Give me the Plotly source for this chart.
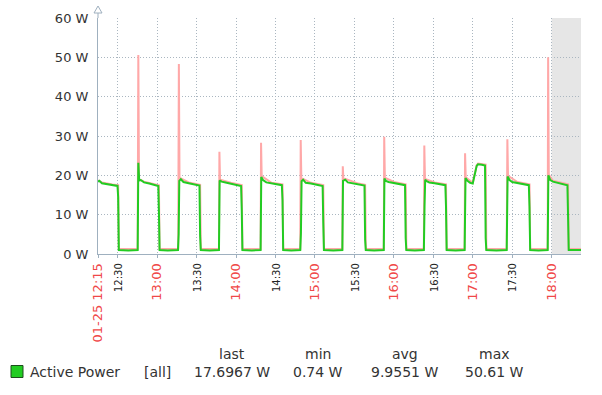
import plotly.graph_objects as go

DATE = "2024-01-25"

# avg (green) breakpoints
AVG_T = [
    "12:15:00", "12:16:00", "12:18:00", "12:22:00", "12:26:00", "12:29:50", "12:30:20", "12:30:50", "12:38:00", "12:45:10",
    "12:45:40", "12:46:20", "12:47:30", "12:50:00", "12:54:00", "12:58:00", "13:00:50", "13:01:20", "13:01:50", "13:08:00", "13:15:50",
    "13:16:20", "13:16:50", "13:18:00", "13:20:00", "13:24:00", "13:28:00", "13:32:10", "13:32:40", "13:33:10", "13:40:00", "13:47:00",
    "13:47:30", "13:49:00", "13:52:00", "13:56:00", "14:00:00", "14:03:50", "14:04:20", "14:04:50", "14:12:00", "14:18:40",
    "14:19:10", "14:20:30", "14:23:00", "14:27:00", "14:31:00", "14:34:50", "14:35:20", "14:35:50", "14:42:00", "14:48:50",
    "14:49:20", "14:49:50", "14:51:00", "14:53:00", "14:57:00", "15:01:00", "15:05:50", "15:06:20", "15:06:50", "15:14:00", "15:20:50",
    "15:21:20", "15:23:00", "15:25:00", "15:29:00", "15:33:00", "15:37:40", "15:38:10", "15:38:40", "15:45:00", "15:52:20",
    "15:52:50", "15:54:00", "15:56:00", "16:00:00", "16:04:00", "16:08:30", "16:09:00", "16:09:30", "16:16:00", "16:22:50",
    "16:23:20", "16:23:50", "16:25:00", "16:27:00", "16:31:00", "16:35:00", "16:39:10", "16:39:40", "16:40:10", "16:47:00", "16:53:50",
    "16:54:30", "16:56:00", "16:58:00", "17:00:00", "17:03:00", "17:04:00", "17:07:00", "17:09:20", "17:09:50", "17:10:20", "17:18:00", "17:25:50",
    "17:26:30", "17:28:00", "17:30:00", "17:34:00", "17:38:00", "17:42:40", "17:43:10", "17:43:40", "17:50:00", "17:57:00",
    "17:57:30", "17:59:00", "18:01:00", "18:05:00", "18:09:00", "18:12:00", "18:12:30", "18:13:00", "18:22:20",
]
AVG_W = [
    18.4, 18.6, 18.0, 17.7, 17.5, 17.3, 14.5, 1.0, 0.9, 1.0,
    23.2, 18.7, 18.8, 18.2, 17.9, 17.5, 17.3, 10.8, 1.0, 0.9, 1.0,
    5.0, 18.6, 19.0, 18.3, 18.0, 17.7, 17.4, 4.6, 1.0, 0.9, 1.0,
    18.7, 18.4, 18.2, 17.9, 17.5, 17.3, 11.2, 1.0, 0.9, 1.0,
    19.6, 18.8, 18.2, 17.9, 17.7, 17.5, 13.7, 1.0, 0.9, 1.0,
    5.3, 18.5, 18.9, 18.1, 17.9, 17.6, 17.3, 7.9, 1.0, 0.9, 1.0,
    18.6, 18.9, 18.2, 18.0, 17.7, 17.4, 3.6, 1.0, 0.9, 1.0,
    19.2, 18.6, 18.3, 18.1, 17.8, 17.5, 4.0, 1.0, 0.9, 1.0,
    12.0, 18.9, 18.5, 18.2, 18.0, 17.8, 17.5, 12.0, 1.0, 0.9, 1.0,
    19.3, 18.6, 18.1, 17.9, 22.4, 22.8, 22.7, 22.5, 4.0, 1.0, 0.9, 1.0,
    19.7, 18.8, 18.3, 18.1, 17.8, 17.5, 12.0, 1.0, 0.9, 1.0,
    20.0, 18.8, 18.4, 18.0, 17.7, 17.5, 9.5, 1.0, 1.0,
]

# max (pink) breakpoints
MAX_T = [
    "12:15:00", "12:18:00", "12:26:00", "12:30:20", "12:30:50", "12:45:10",
    "12:45:40", "12:46:10", "12:50:00", "12:58:00", "13:01:20", "13:01:50", "13:16:00",
    "13:16:30", "13:17:00", "13:18:00", "13:24:00", "13:32:40", "13:33:10", "13:47:00",
    "13:47:20", "13:47:50", "13:56:00", "14:04:20", "14:04:50", "14:18:40",
    "14:19:00", "14:19:30", "14:27:00", "14:35:20", "14:35:50", "14:48:50",
    "14:49:10", "14:49:40", "14:51:00", "14:57:00", "15:06:20", "15:06:50", "15:20:50",
    "15:21:10", "15:21:40", "15:23:00", "15:33:00", "15:38:10", "15:38:40", "15:52:20",
    "15:52:40", "15:53:10", "16:00:00", "16:09:00", "16:09:30", "16:22:50",
    "16:23:10", "16:23:40", "16:31:00", "16:39:40", "16:40:10", "16:53:50",
    "16:54:10", "16:54:40", "17:00:00", "17:03:00", "17:04:00", "17:09:50", "17:10:20", "17:25:50",
    "17:26:20", "17:26:50", "17:34:00", "17:43:10", "17:43:40", "17:57:00",
    "17:57:20", "17:57:50", "18:01:00", "18:12:30", "18:13:00", "18:22:20",
]
MAX_W = [
    18.7, 18.2, 17.7, 17.5, 1.3, 1.3,
    50.61, 19.0, 18.4, 17.7, 17.5, 1.3, 1.3,
    48.3, 19.0, 19.2, 18.2, 17.6, 1.3, 1.3,
    26.0, 18.9, 18.1, 17.5, 1.3, 1.3,
    28.3, 19.8, 18.1, 17.7, 1.3, 1.3,
    29.0, 18.7, 19.1, 18.1, 17.5, 1.3, 1.3,
    22.3, 18.8, 19.1, 17.9, 17.6, 1.3, 1.3,
    29.8, 19.4, 18.3, 17.7, 1.3, 1.3,
    27.6, 19.1, 18.2, 17.7, 1.3, 1.3,
    25.6, 19.5, 18.1, 22.6, 23.0, 22.7, 1.3, 1.3,
    29.2, 19.9, 18.3, 17.7, 1.3, 1.3,
    50.0, 20.2, 18.6, 17.7, 1.3, 1.3,
]

Y_TICKS = [0, 10, 20, 30, 40, 50, 60]
Y_UNIT = "W"
MAJOR_TICKS = ["12:15:00", "13:00:00", "14:00:00", "15:00:00", "16:00:00", "17:00:00", "18:00:00"]
MAJOR_LABELS = ["01-25 12:15", "13:00", "14:00", "15:00", "16:00", "17:00", "18:00"]
MINOR_TICKS = ["12:30:00", "13:30:00", "14:30:00", "15:30:00", "16:30:00", "17:30:00"]
MINOR_LABELS = ["12:30", "13:30", "14:30", "15:30", "16:30", "17:30"]
X_START = "12:15:00"
X_END = "18:22:20"
WORK_END = "18:00:00"

SERIES_NAME = "Active Power"
SERIES_SCOPE = "[all]"
STAT_NAMES = ["last", "min", "avg", "max"]
STAT_VALUES = ["17.6967 W", "0.74 W", "9.9551 W", "50.61 W"]

# ---- styling ----
W, H = 602, 395
L, R, T, B = 98, 21, 18, 141
PW, PH = W - L - R, H - T - B
FONT = "DejaVu Sans"
GREEN = "#22cc22"
PINK = "#ffa8a8"
GRID = "#aab6c0"
AXIS = "#9fb0bf"
RED = "#f04848"
TXT = "#333333"


def ts(t):
    return f"{DATE} {t}"


def px(x):
    return (x - L) / PW


def py(y):
    return (H - B - y) / PH


ticks = sorted(
    [(t, f'<span style="font-size:13px;color:{RED}">{lab}</span>') for t, lab in zip(MAJOR_TICKS, MAJOR_LABELS)]
    + [(t, f'<span style="font-size:10px;color:#222222">{lab}</span>') for t, lab in zip(MINOR_TICKS, MINOR_LABELS)]
)

fig = go.Figure()
fig.add_trace(go.Scatter(x=[ts(t) for t in MAX_T], y=MAX_W, mode="lines",
                         line=dict(color=PINK, width=2), hoverinfo="skip", showlegend=False))
fig.add_trace(go.Scatter(x=[ts(t) for t in AVG_T], y=AVG_W, mode="lines",
                         line=dict(color=GREEN, width=2), showlegend=False))

grid = dict(showgrid=True, gridcolor=GRID, gridwidth=1, griddash="1px,2px")

fig.update_layout(
    width=W, height=H,
    margin=dict(l=L, r=R, t=T, b=B, pad=0),
    paper_bgcolor="white", plot_bgcolor="white",
    font=dict(family=FONT, color=TXT),
    showlegend=False,
    xaxis=dict(type="date", range=[ts(X_START), ts(X_END)],
               tickmode="array", tickvals=[ts(t) for t, _ in ticks], ticktext=[s for _, s in ticks],
               tickangle=-90, tickfont=dict(family=FONT, size=13, color=RED),
               showline=True, linecolor=AXIS, linewidth=1,
               ticks="outside", ticklen=3, tickcolor=AXIS, zeroline=False, **grid),
    yaxis=dict(range=[0, Y_TICKS[-1]], tickmode="array", tickvals=Y_TICKS,
               ticktext=[f"{v} {Y_UNIT}" for v in Y_TICKS],
               tickfont=dict(family=FONT, size=13, color=TXT),
               showline=True, linecolor=AXIS, linewidth=1, ticks="", zeroline=False,
               ticklabelstandoff=6, **grid),
)

shapes = [
    # non-working time band
    dict(type="rect", xref="x", yref="y domain", x0=ts(WORK_END), x1=ts(X_END), y0=0, y1=1,
         fillcolor="#e6e6e6", line=dict(width=0), layer="below"),
    # y axis extension + arrow
    dict(type="line", xref="x domain", yref="y domain", xsizemode="pixel", ysizemode="pixel",
         xanchor=0, yanchor=1, x0=0, x1=0, y0=0, y1=5, line=dict(color=AXIS, width=1)),
    dict(type="path", xref="x domain", yref="y domain", xsizemode="pixel", ysizemode="pixel",
         xanchor=0, yanchor=1, path="M -4,5 L 4,5 L 0,12 Z",
         fillcolor="white", line=dict(color=AXIS, width=1)),
    # legend colour square
    dict(type="rect", xref="paper", yref="paper", x0=px(11), x1=px(23), y0=py(377.5), y1=py(365.5),
         fillcolor=GREEN, line=dict(color="#1d4d1d", width=1)),
]
fig.update_layout(shapes=shapes)

ann = [
    dict(text=SERIES_NAME, x=px(28), y=py(371.5), xanchor="left", yanchor="middle"),
    dict(text=SERIES_SCOPE, x=px(142), y=py(371.5), xanchor="left", yanchor="middle"),
]
centers = [231.5, 318, 404.5, 494]
for name, val, cx in zip(STAT_NAMES, STAT_VALUES, centers):
    ann.append(dict(text=name, x=px(cx), y=py(354.5), xanchor="center", yanchor="middle"))
    ann.append(dict(text=val, x=px(cx), y=py(371.5), xanchor="center", yanchor="middle"))
for a in ann:
    a.update(xref="paper", yref="paper", showarrow=False, font=dict(family=FONT, size=14, color=TXT))
fig.update_layout(annotations=ann)

fig.write_html("out.html", post_script="document.body.style.margin='0';",
               config={"displayModeBar": False})
